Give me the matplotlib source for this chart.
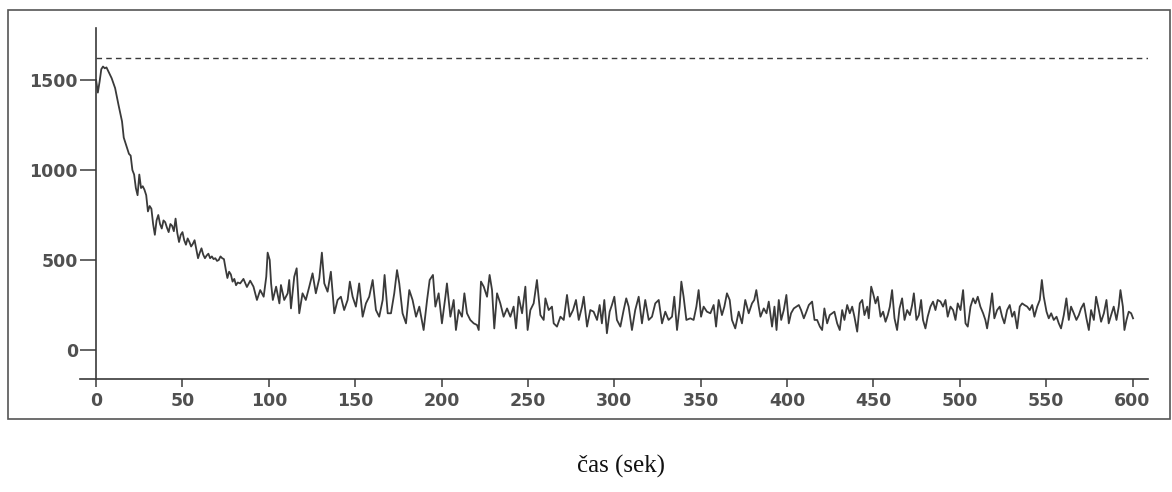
import matplotlib
matplotlib.use("Agg")
import matplotlib.pyplot as plt
from matplotlib.patches import Rectangle

# --- data (time in s, counts) ---
t_decay = [0, 1, 2, 3, 4, 5, 6, 8, 9, 11, 13, 15, 16, 18, 19, 20, 21, 22, 23, 24,
           25, 26, 27, 28, 29, 30, 31, 32, 33, 34, 35, 36, 37, 38, 39, 40, 41, 42,
           43, 44, 45, 46, 47, 48, 49, 50, 51, 52, 53, 54, 55, 56, 57, 58, 59, 60,
           61, 62, 63, 64, 65, 66, 67, 68, 69, 70, 71, 72, 73, 74, 75, 76, 77, 78,
           79, 80, 81, 82]
v_decay = [1500, 1430, 1490, 1560, 1575, 1565, 1570, 1530, 1510, 1455, 1360, 1270,
           1180, 1120, 1090, 1080, 1000, 975, 900, 860, 975, 900, 910, 890, 860, 770,
           800, 785, 700, 640, 720, 750, 700, 675, 720, 710, 680, 655, 700, 690, 660,
           730, 650, 600, 640, 655, 610, 585, 620, 600, 575, 590, 610, 560, 510, 540,
           565, 530, 510, 525, 535, 510, 520, 505, 510, 495, 500, 520, 510, 505, 450,
           400, 435, 420, 380, 395, 360, 375]

t_mid = [83.4, 85.3, 87.3, 89.2, 91.1, 93.1, 95.0, 97.0, 98.5, 99.3, 100.5, 101.3,
         102.3, 104.2, 106.1, 107.0, 108.9, 110.9, 111.8, 112.8, 114.7, 116.1, 117.6,
         119.5, 121.4, 123.4, 125.3, 127.2, 129.2, 130.7, 132.1, 134.0, 135.9, 137.9,
         139.8, 141.7, 143.6, 145.6, 146.9, 148.5, 150.4, 152.3, 154.3, 156.2, 158.1,
         160.1, 162.0, 163.9, 165.9, 167.0, 168.8, 170.7, 172.6, 174.2, 175.5, 177.4,
         179.4, 181.3, 183.2, 185.2, 187.1, 189.6, 191.6, 193.1, 195.0, 196.4, 198.3,
         200.2, 202.2, 203.1, 205.1, 207.0, 208.3, 209.9, 211.8, 213.2, 214.7, 216.6,
         218.6, 220.5, 221.5, 222.8, 224.4, 226.3, 227.8, 229.2, 230.5, 232.1, 234.0,
         235.9, 237.9, 239.8, 241.7, 243.1, 244.6, 246.6, 248.5, 249.8, 251.4, 253.3,
         255.2, 257.2, 259.1, 260.1, 262.0, 263.9, 264.9, 266.8, 268.8, 270.7, 272.6,
         274.2, 276.1, 277.8, 279.4, 281.3, 282.3, 284.2, 286.1]
v_mid = [370, 395, 350, 385, 352, 278, 333, 296, 407, 541, 500, 370,
         278, 352, 259, 361, 278, 315, 389, 231, 407, 454, 204,
         315, 278, 352, 426, 315, 398, 541, 370, 324, 435, 204,
         278, 296, 222, 278, 380, 296, 241, 370, 185, 259, 296,
         389, 222, 185, 278, 417, 204, 204, 315, 444, 370, 204,
         148, 333, 278, 185, 241, 111, 278, 389, 417, 241, 315,
         148, 296, 370, 185, 278, 111, 222, 185, 315, 204, 167,
         148, 139, 111, 380, 352, 296, 417, 333, 120, 315, 259,
         185, 231, 185, 241, 120, 296, 204, 352, 111, 222, 259,
         389, 194, 167, 287, 222, 241, 148, 130, 185, 167, 306,
         185, 222, 278, 167, 241, 296, 130, 222]

t_late = [288.0, 290.0, 291.5, 292.8, 294.2, 295.7, 297.3, 298.6, 300.0, 301.5, 303.5,
          305.4, 306.9, 308.3, 310.2, 312.1, 314.1, 316.0, 317.9, 319.9, 321.8, 323.7,
          325.7, 327.6, 329.5, 331.4, 333.4, 334.7, 336.3, 337.8, 338.8, 340.1, 341.7,
          344.0, 345.9, 347.5, 348.8, 350.2, 351.7, 353.6, 355.6, 357.5, 358.9, 360.4,
          362.3, 363.7, 365.2, 366.8, 368.1, 370.0, 372.0, 373.9, 375.8, 377.8, 379.7,
          381.0, 382.2, 383.6, 384.6, 386.5, 388.1, 389.4, 391.3, 392.7, 393.9, 395.2,
          396.6, 398.1, 399.6, 401.0, 402.3, 403.9, 405.4, 406.8, 408.1, 409.7, 411.2,
          412.6, 414.5, 415.9, 417.4, 419.0, 420.3, 421.6, 423.2, 424.7, 426.1, 427.4,
          429.0, 430.5, 431.9, 433.2, 434.8, 436.3, 437.7, 439.0, 440.6, 442.1, 443.5,
          444.8, 446.4, 447.3, 448.7, 449.8, 451.2, 452.5, 454.1, 455.6, 457.0, 458.3,
          459.5, 460.8, 462.2, 463.7, 465.1, 466.6, 468.0, 469.5, 471.1, 472.4, 473.4,
          474.9, 476.3, 477.6]
v_late = [213, 167, 250, 148, 278, 93, 213, 250, 296, 167, 130,
          222, 287, 241, 111, 222, 296, 148, 278, 167, 185, 259,
          278, 148, 213, 167, 185, 296, 111, 241, 380, 296, 167,
          176, 167, 241, 333, 185, 241, 213, 204, 250, 130, 278,
          194, 241, 315, 278, 167, 120, 213, 148, 278, 204, 259,
          278, 333, 241, 185, 231, 204, 269, 130, 241, 111, 278,
          167, 222, 306, 148, 204, 231, 241, 250, 222, 176, 213,
          250, 269, 167, 167, 130, 111, 231, 148, 194, 204, 213,
          148, 111, 222, 167, 250, 204, 241, 185, 102, 259, 278,
          194, 241, 176, 352, 315, 259, 296, 185, 213, 157, 194,
          241, 333, 176, 111, 231, 287, 167, 222, 194, 250, 315,
          167, 194, 278]

t_end = [478.7, 480.1, 481.4, 483.0, 484.5, 485.9, 487.2, 488.8, 490.3, 491.7, 493.0,
         494.6, 496.1, 497.5, 498.8, 500.4, 501.9, 503.3, 504.6, 506.2, 507.7, 509.0,
         510.4, 511.9, 513.5, 514.8, 515.8, 517.3, 518.7, 520.0, 521.6, 523.1, 524.5,
         525.8, 527.4, 528.9, 530.3, 531.6, 533.2, 534.7, 536.1, 537.4, 539.0, 540.5,
         541.9, 543.2, 544.8, 546.3, 547.5, 548.6, 550.2, 551.5, 552.9, 554.4, 556.0,
         557.3, 558.6, 560.2, 561.7, 563.1, 564.4, 566.0, 567.5, 568.9, 570.2, 571.8,
         573.3, 574.7, 576.0, 577.6, 578.9, 580.5, 581.8, 583.4, 584.9, 586.2, 587.6,
         589.1, 590.7, 592.0, 593.0, 594.4, 595.3, 596.5, 597.8, 599.2, 600.3]
v_end = [167, 120, 185, 241, 269, 222, 278, 269, 241, 278, 185,
         241, 222, 167, 259, 222, 333, 148, 130, 241, 287, 259,
         296, 241, 204, 167, 120, 213, 315, 176, 222, 241, 185,
         148, 222, 250, 185, 213, 120, 241, 259, 250, 241, 222,
         250, 185, 241, 278, 389, 296, 213, 176, 204, 167, 185,
         148, 120, 194, 287, 167, 241, 204, 167, 194, 231, 259,
         176, 111, 222, 167, 296, 222, 157, 204, 278, 148, 194,
         241, 167, 241, 333, 241, 111, 167, 213, 204, 176]

saturation = 1620

x_ticks = [0, 50, 100, 150, 200, 250, 300, 350, 400, 450, 500, 550, 600]
y_ticks = [0, 500, 1000, 1500]
x_label = "čas (sek)"


def main():
    t = t_decay + t_mid + t_late + t_end
    v = v_decay + v_mid + v_late + v_end

    fig = plt.figure(figsize=(11.72, 4.92), dpi=100)
    ax = fig.add_axes([0.0683, 0.2297, 0.9113, 0.7134])

    ink = "#3a3a3a"
    ax.plot(t, v, color=ink, linewidth=1.3)
    ax.axhline(saturation, xmin=0.0153, xmax=1.0, color=ink, linewidth=1.0,
               linestyle=(0, (4, 3)))

    ax.set_xlim(-9.3, 609)
    ax.set_ylim(-161, 1789)

    # axis lines like the old plotting program
    ax.spines["top"].set_visible(False)
    ax.spines["right"].set_visible(False)
    ax.spines["left"].set_position(("data", 0))
    for s in ("left", "bottom"):
        ax.spines[s].set_color(ink)
        ax.spines[s].set_linewidth(1.2)

    ax.set_xticks(x_ticks)
    ax.set_yticks(y_ticks)
    ax.tick_params(axis="x", direction="out", length=6, width=1.1, color=ink, pad=3.5)
    ax.tick_params(axis="y", direction="out", length=11.5, width=1.1, color=ink, pad=1.5)
    for lab in ax.get_xticklabels() + ax.get_yticklabels():
        lab.set_fontweight("bold")
        lab.set_fontsize(12.5)
        lab.set_color("#505050")
        lab.set_family("DejaVu Sans")

    # outer frame round the plot
    fig.patches.append(Rectangle((0.0068, 0.1484), 0.9915, 0.8313, transform=fig.transFigure,
                                 fill=False, edgecolor="#555555", linewidth=1.2))

    fig.text(0.530, 0.051, x_label, ha="center", va="center",
             fontsize=18, family="Liberation Serif", color="#111111")

    fig.savefig("out.png", dpi=100)
    plt.close(fig)


if __name__ == "__main__":
    main()
